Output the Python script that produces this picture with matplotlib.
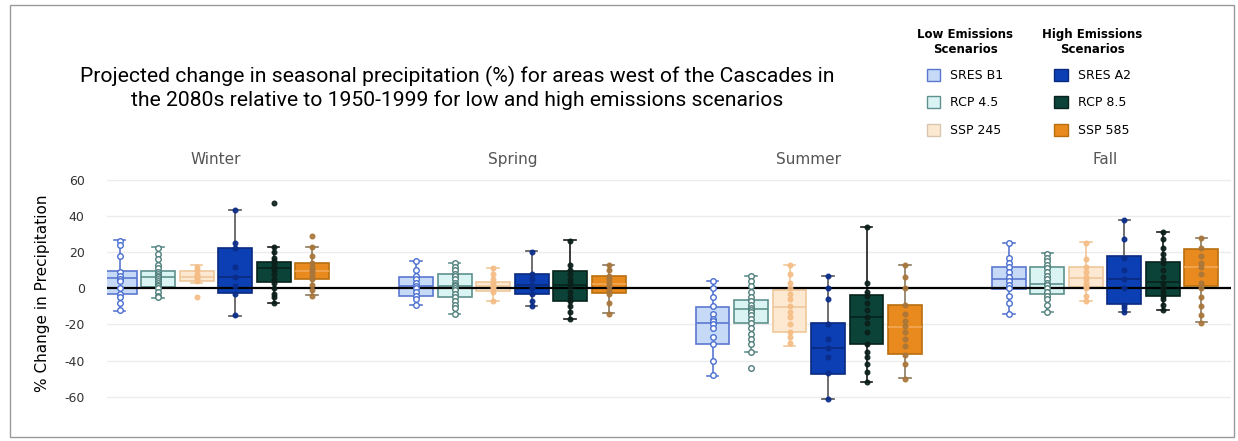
import numpy as np
import matplotlib
matplotlib.use('Agg')
import matplotlib.pyplot as plt
from matplotlib.patches import Patch, Rectangle

seasons = ['Winter', 'Spring', 'Summer', 'Fall']
scenarios = ['SRES B1', 'RCP 4.5', 'SSP 245', 'SRES A2', 'RCP 8.5', 'SSP 585']

# box statistics, one row per scenario, one column per season
whis_hi = [[26.5, 15, 3.9, 24.9],
           [22.6, 14, 6.6, 19.3],
           [12.7, 11, 12.7, 25.4],
           [43, 20.4, 6.6, 38],
           [23, 26.5, 33.7, 31],
           [22.6, 13, 12.7, 28]]
q3 = [[9.4, 6, -10.5, 11.6],
      [9.4, 7.7, -6.6, 11.6],
      [9.4, 3.3, -1, 11.6],
      [22, 7.7, -19.3, 17.7],
      [14.4, 9.4, -3.9, 14.4],
      [13.8, 7, -9.4, 21.5]]
med = [[5.5, 1.5, -19.3, 5],
       [6, 1, -11.6, 2.2],
       [6, 1, -10.5, 5.5],
       [6, 2, -33, 5],
       [11, 2, -16, 3.3],
       [9.4, 2.2, -21.5, 11.6]]
q1 = [[-3.3, -4.4, -31, -0.5],
      [0.5, -5, -19.3, -3.3],
      [3.8, -1.7, -24, 0.5],
      [-2.8, -3.3, -47.5, -8.8],
      [3.3, -7, -31, -4.4],
      [5, -2.8, -36.5, 1]]
whis_lo = [[-12.7, -9.4, -48.6, -14],
           [-5.5, -14.4, -35.4, -13],
           [3, -7, -32, -7],
           [-15.5, -9.7, -61.3, -13.3],
           [-8.3, -17, -52, -12.2],
           [-3.9, -13.8, -49.7, -18.8]]

# individual model values
points = [
    [[26, 24, 18, 9, 7, 5, 4, 0, -3, -5, -8, -12],
     [15, 10, 7, 5, 3, 1, 0, -2, -4, -6, -9],
     [4, 0, -5, -10, -14, -17, -18, -20, -22, -27, -31, -40, -48],
     [25, 17, 14, 12, 9, 6, 4, 2, 0, -4, -8, -14]],
    [[22, 19, 16, 13, 11, 9, 8, 7, 6, 5, 4, 3, 2, 1, 0, -2, -4, -5],
     [14, 12, 10, 8, 7, 5, 3, 2, 1, 0, -1, -3, -5, -7, -9, -11, -14],
     [7, 4, 1, -2, -5, -7, -9, -11, -12, -13, -15, -17, -19, -22, -25, -28, -31, -35, -44],
     [19, 17, 15, 13, 11, 9, 7, 5, 3, 2, 0, -2, -4, -6, -9, -13]],
    [[12, 10, 8, 7, 6, 5, 4, -5],
     [11, 8, 5, 3, 1, 0, -2, -7],
     [13, 8, 3, 0, -3, -6, -10, -13, -16, -20, -24, -27, -30],
     [25, 16, 12, 9, 6, 5, 3, 1, 0, -4, -7]],
    [[43, 25, 22, 12, 6, 1, -3, -15],
     [20, 8, 5, 2, 0, -3, -7, -10],
     [7, 0, -6, -20, -28, -33, -38, -47, -61],
     [38, 27, 17, 10, 5, 0, -9, -11, -13]],
    [[47, 23, 20, 17, 15, 14, 12, 11, 10, 8, 5, 3, 0, -3, -5, -8],
     [26, 13, 10, 8, 5, 3, 1, -2, -5, -7, -10, -13, -17],
     [34, 3, -2, -4, -8, -12, -16, -19, -24, -31, -35, -38, -42, -46, -52],
     [31, 27, 22, 19, 16, 14, 10, 6, 3, 0, -2, -4, -6, -9, -12]],
    [[29, 23, 18, 14, 12, 10, 9, 7, 5, 2, -1, -4],
     [13, 10, 7, 5, 3, 1, -1, -3, -8, -14],
     [13, 6, 0, -9, -14, -18, -21, -24, -28, -32, -37, -42, -50],
     [28, 22, 18, 14, 12, 8, 3, 0, -5, -10, -15, -19]],
]

fills = ['#c6d9f6', '#d9f4f3', '#fde9d2', '#0b3fb3', '#0b4339', '#e88a1e']
edges = ['#5a78d0', '#5e918d', '#efc89c', '#0a2a7e', '#07221d', '#b8700f']
whisk = ['#5a78d0', '#5e918d', '#efc89c', '#555555', '#1a1a1a', '#8a7a60']
medc = ['#5a78d0', '#5e918d', '#efc89c', '#0a2a7e', '#07221d', '#f2a956']
ptc = ['#4a6fd0', '#4f7f7c', '#f5bd86', '#0a2d8a', '#0b1f1a', '#a8763a']
open_pts = [True, True, False, False, False, False]

group_gap = 7.7

fig = plt.figure(figsize=(12.38, 4.41), dpi=100)
ax = fig.add_axes([0.0864, 0.059, 0.908, 0.554])

for i in range(len(scenarios)):
    stats = []
    pos = []
    for j in range(len(seasons)):
        stats.append({'med': med[i][j], 'q1': q1[i][j], 'q3': q3[i][j],
                      'whislo': whis_lo[i][j], 'whishi': whis_hi[i][j], 'fliers': []})
        pos.append(j * group_gap + (i - 2.5))
    ax.bxp(stats, positions=pos, widths=0.88, patch_artist=True, showfliers=False,
           boxprops=dict(facecolor=fills[i], edgecolor=edges[i], linewidth=1.2),
           medianprops=dict(color=medc[i], linewidth=1.2),
           whiskerprops=dict(color=whisk[i], linewidth=1.2),
           capprops=dict(color=whisk[i], linewidth=1.2), capwidths=0.3,
           zorder=3)
    for j in range(len(seasons)):
        y = np.array(points[i][j])
        x = np.full(len(y), j * group_gap + (i - 2.5))
        if open_pts[i]:
            ax.scatter(x, y, s=16, facecolor='white', edgecolor=ptc[i], linewidth=1, zorder=4)
        else:
            ax.scatter(x, y, s=11, color=ptc[i], alpha=0.9, zorder=4)

ax.axhline(0, color='black', linewidth=1.6, zorder=3.5)
ax.set_xlim(-2.83, 26.37)
ax.set_ylim(-70, 65)
ax.set_yticks([-60, -40, -20, 0, 20, 40, 60])
ax.set_yticklabels(['-60', '-40', '-20', '0', '20', '40', '60'], fontsize=9, color='#333333')
ax.tick_params(axis='y', length=0, pad=16)
ax.set_xticks([])
ax.grid(axis='y', color='#ececec', linewidth=1)
ax.set_axisbelow(True)
for s in ax.spines.values():
    s.set_visible(False)
ax.set_ylabel('% Change in Precipitation', fontsize=11, labelpad=10)

for j, s in enumerate(seasons):
    ax.text(j * group_gap, 1.045, s, transform=ax.get_xaxis_transform(),
            ha='center', va='center', fontsize=11, color='#555555')

fig.text(457 / 1238, 1 - 88 / 441,
         'Projected change in seasonal precipitation (%) for areas west of the Cascades in\n'
         'the 2080s relative to 1950-1999 for low and high emissions scenarios',
         ha='center', va='center', fontsize=15.2, family='Roboto', linespacing=1.2)

low = [Patch(facecolor=fills[i], edgecolor=edges[i] if i != 2 else '#d9c6b0') for i in range(3)]
high = [Patch(facecolor=fills[i], edgecolor=edges[i]) for i in range(3, 6)]
for handles, labels, title, xloc in [(low, scenarios[:3], 'Low Emissions\nScenarios', 907 / 1238),
                                     (high, scenarios[3:], 'High Emissions\nScenarios', 1032 / 1238)]:
    lg = fig.legend(handles, labels, title=title, loc='upper left',
                    bbox_to_anchor=(xloc, 1 - 18 / 441), frameon=False,
                    fontsize=9, handlelength=1.1, handleheight=1.1,
                    labelspacing=1.15, handletextpad=0.8, borderaxespad=0.4,
                    title_fontproperties={'weight': 'bold', 'size': 8.5})
    lg.get_title().set_multialignment('center')
    lg._legend_box.sep = 9

fig.add_artist(Rectangle((10 / 1238, 4 / 441), 1224 / 1238, 432 / 441,
                         transform=fig.transFigure, fill=False,
                         edgecolor='#9a9a9a', linewidth=1))

fig.savefig('out.png', dpi=100)
